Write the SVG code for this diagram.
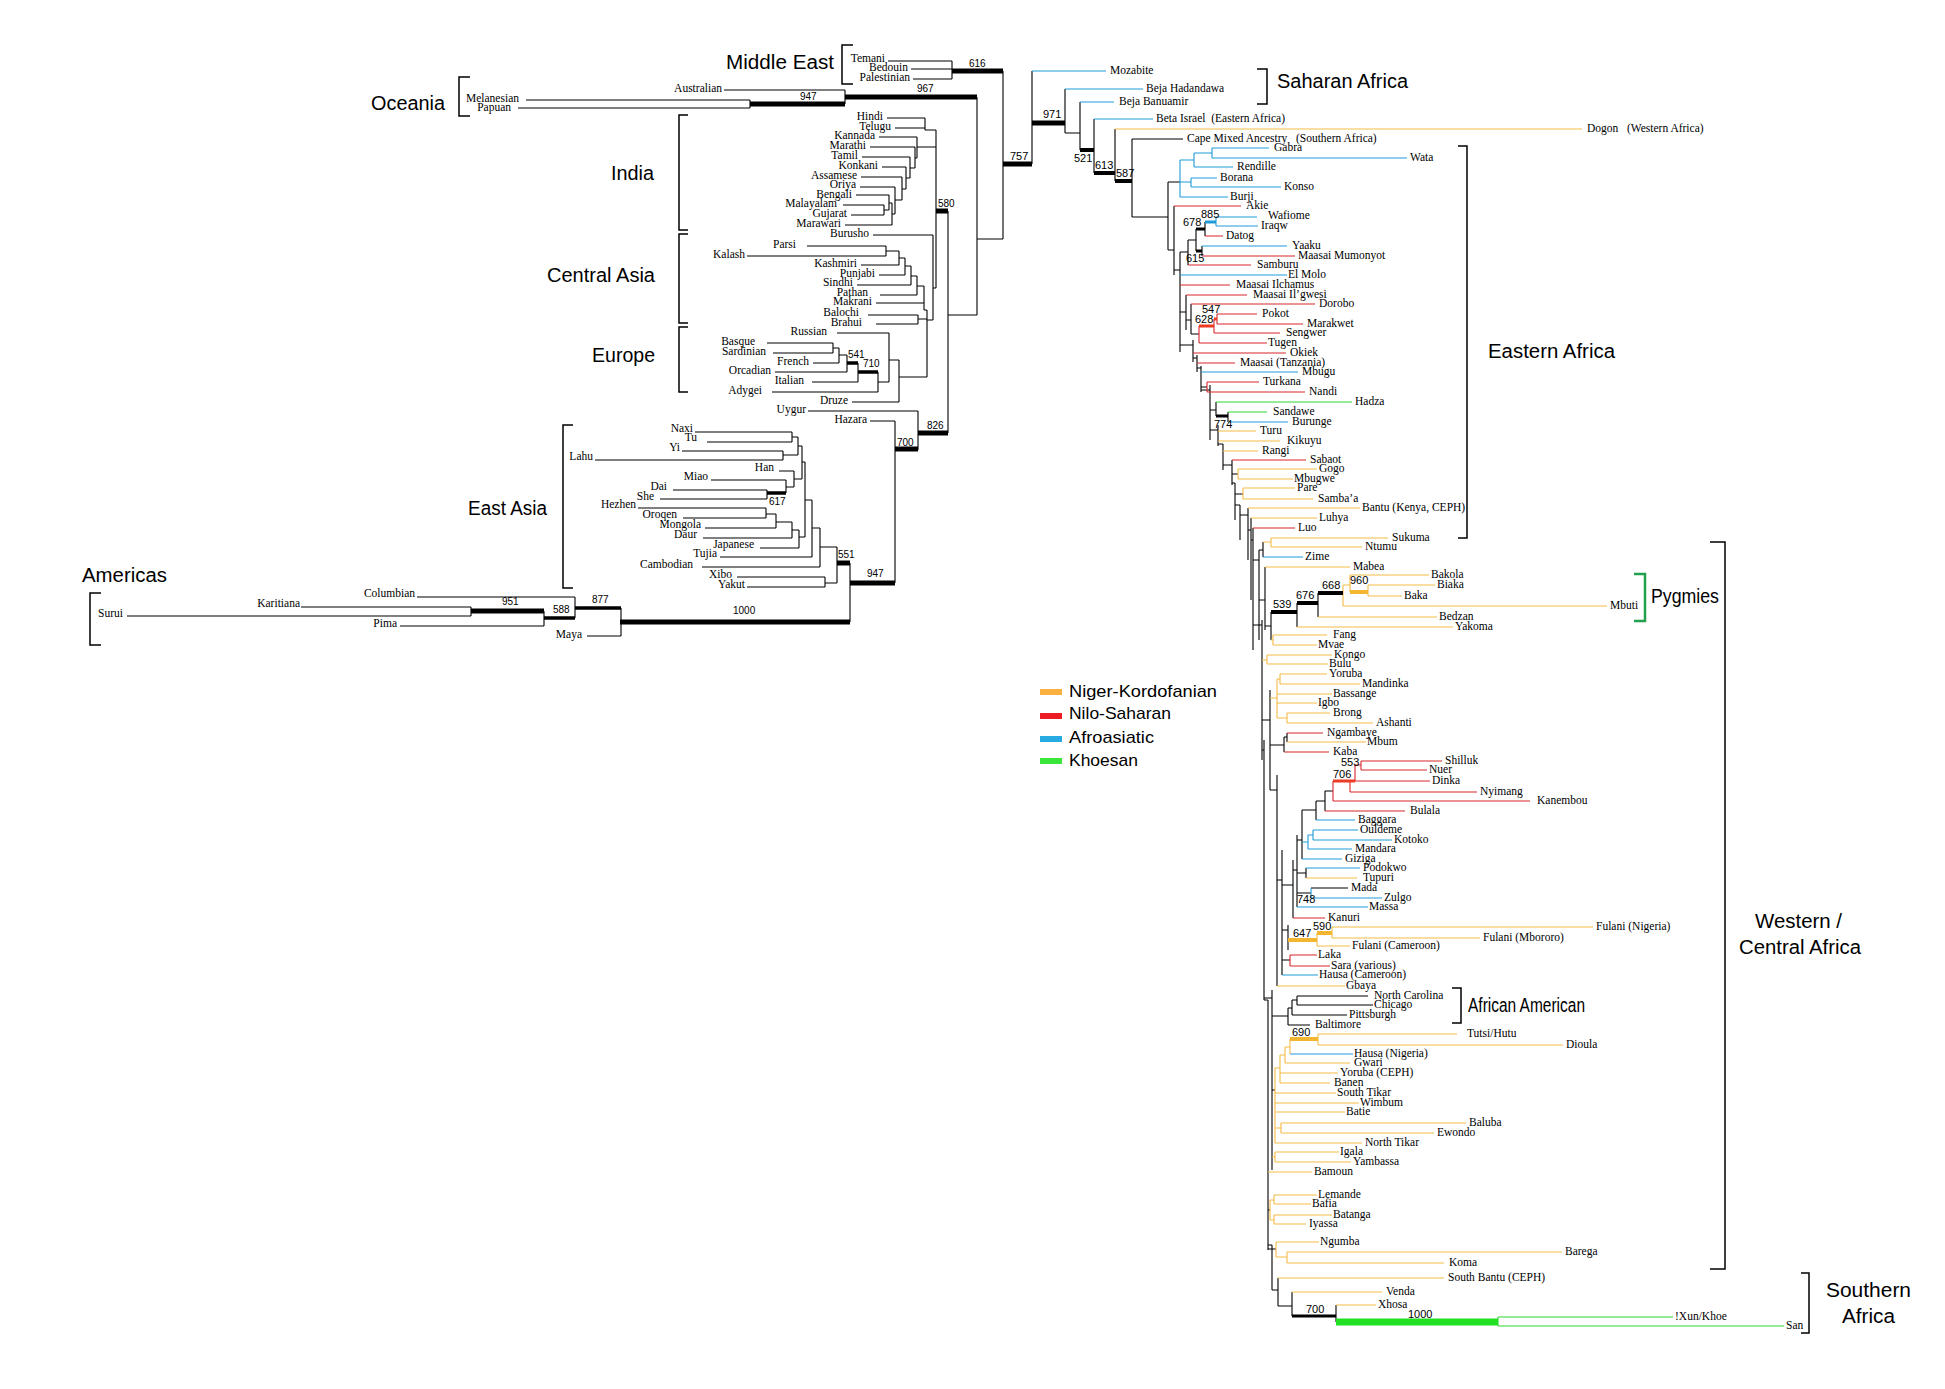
<svg xmlns="http://www.w3.org/2000/svg" width="1945" height="1389" viewBox="0 0 1945 1389">
<style>
.t{font-family:"Liberation Serif",serif;font-size:11.5px;fill:#000}
.e{text-anchor:end}
.n{font-family:"Liberation Sans",sans-serif;font-size:10px;fill:#000}
.na{font-family:"Liberation Sans",sans-serif;font-size:11px;fill:#000}
.big{font-family:"Liberation Sans",sans-serif;font-size:20px;fill:#000}
.lg{font-family:"Liberation Sans",sans-serif;font-size:17px;fill:#000}
.k{stroke:#000;stroke-width:1.1;fill:none}
.y{stroke:#f3bb45;stroke-width:1.1;fill:none}
.r{stroke:#d8262b;stroke-width:1.1;fill:none}
.b{stroke:#1f9bd7;stroke-width:1.1;fill:none}
.g{stroke:#2fd82f;stroke-width:1.1;fill:none}
.w3{stroke-width:3}
.w35{stroke-width:3.5}
.w4{stroke-width:4}
.w5{stroke-width:5}
.w7{stroke-width:7}
.ro{stroke:#ee3b24}
.yo{stroke:#f4b630}
.gt{stroke:#22e022}
.br{stroke:#000;stroke-width:1.5;fill:none}
</style>
<rect width="1945" height="1389" fill="#fff"/>
<g id="connectors">
<path class="k" d="M888,61H952 M911,69H952 M913,79H952 M952,61V79 M1003,71V239 M977,239H1003 M724,90H845 M526,100H750 M518,108H750 M750,100V108 M845,90V104 M977,97V315 M887,118H925 M895,128H925 M925,118V130 M925,130H936 M879,137H917 M870,147H915 M862,157H910 M882,167H906 M861,177H902 M860,187H895 M856,195H889 M843,205H884 M851,215H884 M845,225H892 M884,205V215 M884,210H889 M889,195V210 M889,203H892 M892,203V225 M892,214H895 M895,187V214 M895,200H902 M902,177V200 M902,189H906 M906,167V189 M906,178H910 M910,157V178 M910,168H915 M915,147V168 M915,158H917 M917,137V158 M917,147H936 M936,130V288 M873,235H933 M933,235V320 M933,288H936 M948,211V433 M948,315H977 M807,246H886 M747,256H886 M886,246V256 M886,251H899 M861,265H899 M899,251V265 M899,258H905 M879,275H905 M905,258V275 M905,266H911 M857,285H911 M911,266V285 M911,276H917 M880,295H917 M917,276V295 M917,286H924 M876,303H924 M924,286V310 M868,315H918 M876,324H918 M918,315V324 M918,319H927 M924,310H927 M927,310V377 M927,320H933 M837,333H889 M767,343H833 M773,353H833 M833,343V353 M833,348H839 M813,363H839 M839,348V363 M839,355H847 M775,372H847 M847,355V372 M812,382H858 M858,363V382 M772,392H878 M878,372V392 M878,382H889 M889,333V382 M889,360H899 M852,402H899 M899,360V402 M899,377H927 M808,411H918 M918,411V450 M870,421H895 M895,421V583 M695,432H792 M707,442H792 M792,432V442 M792,437H798 M682,451H783 M595,460H783 M783,451V460 M783,455H798 M798,437V455 M798,446H802 M779,471H794 M711,480H786 M673,490H767 M660,499H767 M767,490V499 M786,480V493 M786,487H794 M794,471V487 M794,479H802 M802,446V479 M802,462H805 M638,508H766 M683,518H766 M766,508V518 M766,514H776 M705,528H776 M776,514V528 M776,522H792 M703,538H792 M792,522V538 M792,530H799 M760,548H799 M799,530V548 M799,537H805 M805,462V537 M805,500H812 M720,557H812 M812,500V557 M812,528H820 M702,567H820 M820,528V567 M820,547H837 M737,577H825 M747,587H825 M825,577V587 M825,583H837 M837,547V583 M850,563V622 M417,597H575 M301,607H471 M127,616H471 M471,607V616 M400,626H544 M544,611V626 M575,597V618 M587,636H621 M621,608V636"/>
<path class="k w5" d="M952,71H1003 M1003,164H1032 M750,104H845 M845,97H977 M936,211H948 M918,433H948 M895,449H918 M850,583H895 M837,563H850 M620,622H850 M471,611H544 M1032,123H1065"/>
<path class="k w35" d="M847,363H858 M858,372H878 M544,618H575 M575,608H621 M767,493H786"/>
<path class="k" d="M1032,71V164 M1065,89V133 M1065,133H1080 M1080,102V150 M1094,119V173 M1115,129V181 M1132,139V217 M1132,217H1168 M1168,182V250 M1168,182H1180 M1168,250H1174 M1174,206V275 M1174,270H1180 M1180,252V352 M1180,252H1188 M1188,240V265 M1188,240H1196 M1196,229V251 M1205,222V236 M1202,246V256 M1186,295V330 M1180,312H1186 M1191,304V334 M1186,320H1191 M1191,334H1199 M1180,345H1193 M1193,340V362 M1193,358H1197 M1197,355V372 M1197,368H1201 M1201,366V392 M1201,387H1207 M1201,390H1210 M1210,385V440 M1210,410H1216 M1216,402V416 M1228,412V422 M1210,430H1218 M1218,425V446 M1218,444H1223 M1223,444V470 M1223,465H1232 M1232,460V485 M1232,474H1238 M1232,483H1235 M1235,483V520 M1235,494H1243 M1235,505H1240 M1240,505V540 M1240,515H1248 M1248,508V560 M1248,530H1251 M1251,518V600 M1251,540H1253 M1253,528V650 M1253,560H1259 M1259,550V640 M1259,550H1263 M1263,542V557 M1259,600H1265 M1265,567V630 M1265,626H1271 M1271,612V640 M1297,603V627 M1318,593V617 M1253,625H1262 M1262,620V760 M1262,720H1270 M1270,690V790 M1270,745H1284 M1284,737V752 M1284,737H1287 M1287,733V742 M1270,790H1277 M1277,775V986 M1277,880H1282 M1282,850V975 M1325,791H1333 M1325,791V811 M1316,801H1325 M1316,801V820 M1302,810H1316 M1302,810V859 M1297,840H1302 M1297,835V907 M1297,873H1306 M1306,868V878 M1297,893H1311 M1293,870H1297 M1293,860V918 M1282,885H1293 M1288,925V950 M1282,930H1288 M1282,960H1290 M1262,750H1264 M1264,740V1000 M1264,998H1272 M1272,990V1170 M1264,1000H1268 M1268,1000V1250 M1272,1016H1288 M1288,1008V1025 M1288,1008H1292 M1292,1000V1015 M1292,1000H1297 M1297,996V1005 M1272,1090H1275 M1268,1210H1270 M1268,1249H1276 M1268,1245H1272 M1272,1245V1290 M1272,1290H1278 M1278,1278V1306 M1278,1306H1292 M1292,1292V1316 M1336,1305V1322 M1132,139H1183 M1311,888H1348 M1297,996H1368 M1297,1005H1373 M1292,1015H1347 M1288,1025H1310"/>
<path class="b" d="M1032,71H1106 M1065,89H1143 M1080,102H1114 M1094,119H1153 M1212,148H1269 M1212,158H1407 M1194,167H1233 M1191,178H1217 M1191,187H1281 M1180,197H1228 M1180,160V197 M1180,160H1194 M1194,153V167 M1194,153H1212 M1212,148V158 M1180,182H1191 M1191,178V187 M1216,217H1257 M1216,226H1258 M1216,217V226 M1202,246H1287 M1180,275H1287 M1201,372H1298 M1228,422H1288 M1263,557H1303 M1316,820H1355 M1313,830H1358 M1313,840H1392 M1313,830V840 M1308,835H1313 M1308,849H1352 M1308,835V849 M1302,842H1308 M1302,859H1342 M1306,868H1360 M1311,898H1382 M1311,888V898 M1297,907H1368 M1282,975H1318 M1290,1054H1353"/>
<path class="r" d="M1174,206H1241 M1205,236H1223 M1202,256H1295 M1188,265H1251 M1180,285H1230 M1186,295H1247 M1191,304H1315 M1217,314H1257 M1217,324H1303 M1217,314V324 M1214,333H1280 M1214,319V333 M1199,343H1267 M1199,326V343 M1193,353H1286 M1197,363H1235 M1207,382H1259 M1207,392H1305 M1207,382V392 M1232,460H1306 M1253,528H1295 M1287,733H1323 M1284,752H1329 M1361,761H1442 M1361,770H1427 M1361,761V770 M1355,765H1361 M1355,765V781 M1355,781H1430 M1350,781V792 M1350,792H1477 M1333,781V801 M1333,801H1530 M1325,811H1405 M1293,918H1325 M1290,955H1317 M1290,966H1330 M1290,955V966"/>
<path class="g" d="M1216,402H1352 M1228,412H1267 M1498,1317H1673 M1498,1326H1784 M1498,1317V1326"/>
<path class="y" d="M1115,129H1582 M1218,431H1256 M1218,441H1280 M1223,451H1258 M1238,469H1317 M1238,479H1293 M1238,469V479 M1243,488H1295 M1243,499H1313 M1243,488V499 M1248,508H1360 M1251,518H1317 M1271,538H1388 M1271,547H1362 M1271,538V547 M1263,542H1271 M1265,567H1350 M1350,575H1429 M1368,585H1435 M1368,596H1402 M1368,585V596 M1350,575V592 M1343,585H1350 M1343,585V606 M1343,606H1607 M1318,617H1437 M1297,627H1453 M1273,635H1327 M1273,645H1317 M1273,635V645 M1271,640H1273 M1267,655H1332 M1267,664H1328 M1267,655V664 M1262,660H1267 M1280,674H1327 M1280,684H1360 M1280,674V684 M1277,679H1280 M1277,694H1332 M1277,703H1317 M1277,679V718 M1277,718H1287 M1287,713H1330 M1287,723H1373 M1287,713V723 M1270,698H1277 M1287,742H1366 M1306,878H1357 M1332,927H1593 M1332,938H1480 M1332,927V938 M1317,933V946 M1317,946H1350 M1277,986H1345 M1318,1034H1457 M1318,1045H1563 M1318,1034V1045 M1290,1039V1054 M1285,1047H1290 M1285,1047V1063 M1285,1063H1350 M1280,1055H1285 M1280,1055V1083 M1280,1073H1338 M1280,1083H1330 M1275,1068H1280 M1275,1068V1143 M1275,1093H1336 M1275,1103H1359 M1275,1112H1345 M1275,1128H1281 M1281,1123V1133 M1281,1123H1466 M1281,1133H1434 M1275,1143H1362 M1275,1152V1162 M1275,1152H1339 M1275,1162H1351 M1272,1157H1275 M1268,1172H1312 M1274,1195V1204 M1274,1195H1317 M1274,1204H1311 M1270,1200H1274 M1274,1215V1224 M1274,1215H1332 M1274,1224H1306 M1270,1220H1274 M1270,1200V1220 M1276,1242V1257 M1276,1242H1319 M1276,1257H1287 M1287,1252V1263 M1287,1252H1562 M1287,1263H1444 M1278,1278H1444 M1292,1292H1382 M1336,1305H1376"/>
<path class="k w4" d="M1080,150H1094 M1094,173H1115 M1115,181H1132 M1271,612H1297 M1297,603H1318 M1318,593H1343"/>
<path class="k w3" d="M1196,229H1205 M1196,251H1202 M1216,416H1228 M1292,1316H1336"/>
<path class="b w3" d="M1205,222H1216"/>
<path class="r ro w3" d="M1199,326H1214 M1214,319H1217 M1333,781H1355"/>
<path class="y yo w4" d="M1350,592H1368 M1317,933H1332 M1288,940H1317 M1290,1039H1318"/>
<path class="g gt w7" d="M1336,1322H1498"/>
</g>
<g id="brackets">
<path class="br" d="M853,45H842V84H853 M470,77H459V116H470 M688,115H679V230H688 M688,234H679V323H688 M688,327H679V392H688 M573,425H563V588H573 M101,593H90V645H101 M1257,69H1267V104H1257 M1458,146H1467V538H1458 M1452,988H1461V1023H1452 M1710,542H1725V1269H1710 M1801,1273H1809V1333H1801"/>
<path d="M1634,574H1645V621H1634" stroke="#22a04b" stroke-width="2.5" fill="none"/>
</g>
<g id="legend">
<rect x="1040" y="689" width="22" height="6" fill="#fbb040"/>
<rect x="1040" y="713" width="22" height="6" fill="#ed1c24"/>
<rect x="1040" y="736" width="22" height="6" fill="#27aae1"/>
<rect x="1040" y="758" width="22" height="6" fill="#39e639"/>
<text class="lg" x="1069" y="697" textLength="148" lengthAdjust="spacingAndGlyphs">Niger-Kordofanian</text>
<text class="lg" x="1069" y="719" textLength="102" lengthAdjust="spacingAndGlyphs">Nilo-Saharan</text>
<text class="lg" x="1069" y="743" textLength="85" lengthAdjust="spacingAndGlyphs">Afroasiatic</text>
<text class="lg" x="1069" y="766" textLength="69" lengthAdjust="spacingAndGlyphs">Khoesan</text>
</g>
<g id="region-labels">
<text class="big" x="726" y="69" textLength="108" lengthAdjust="spacingAndGlyphs">Middle East</text>
<text class="big" x="371" y="110" textLength="74" lengthAdjust="spacingAndGlyphs">Oceania</text>
<text class="big" x="611" y="180" textLength="43" lengthAdjust="spacingAndGlyphs">India</text>
<text class="big" x="547" y="282" textLength="108" lengthAdjust="spacingAndGlyphs">Central Asia</text>
<text class="big" x="592" y="362" textLength="63" lengthAdjust="spacingAndGlyphs">Europe</text>
<text class="big" x="468" y="515" textLength="79" lengthAdjust="spacingAndGlyphs">East Asia</text>
<text class="big" x="82" y="582" textLength="85" lengthAdjust="spacingAndGlyphs">Americas</text>
<text class="big" x="1277" y="88" textLength="131" lengthAdjust="spacingAndGlyphs">Saharan Africa</text>
<text class="big" x="1488" y="358" textLength="127" lengthAdjust="spacingAndGlyphs">Eastern Africa</text>
<text class="big" x="1651" y="603" font-size="18" fill="#22a04b" textLength="68" lengthAdjust="spacingAndGlyphs">Pygmies</text>
<text class="big" x="1755" y="928" textLength="87" lengthAdjust="spacingAndGlyphs">Western /</text>
<text class="big" x="1739" y="954" textLength="122" lengthAdjust="spacingAndGlyphs">Central Africa</text>
<text class="big" x="1468" y="1012" font-size="17" textLength="117" lengthAdjust="spacingAndGlyphs">African American</text>
<text class="big" x="1826" y="1297" textLength="85" lengthAdjust="spacingAndGlyphs">Southern</text>
<text class="big" x="1842" y="1323" textLength="53" lengthAdjust="spacingAndGlyphs">Africa</text>
</g>
<g id="support-values">
<text class="n" x="969" y="67">616</text><text class="n" x="917" y="92">967</text><text class="n" x="800" y="100">947</text>
<text class="n" x="938" y="207">580</text><text class="n" x="848" y="358">541</text><text class="n" x="863" y="367">710</text>
<text class="n" x="927" y="429">826</text><text class="n" x="897" y="446">700</text><text class="n" x="769" y="505">617</text>
<text class="n" x="838" y="558">551</text><text class="n" x="867" y="577">947</text><text class="n" x="733" y="614">1000</text>
<text class="n" x="502" y="605">951</text><text class="n" x="553" y="613">588</text><text class="n" x="592" y="603">877</text>
<text class="na" x="1010" y="160">757</text><text class="na" x="1043" y="118">971</text><text class="na" x="1074" y="162">521</text>
<text class="na" x="1095" y="169">613</text><text class="na" x="1116" y="177">587</text><text class="na" x="1201" y="218">885</text>
<text class="na" x="1183" y="226">678</text><text class="na" x="1186" y="262">615</text><text class="na" x="1202" y="313">547</text>
<text class="na" x="1195" y="323">628</text><text class="na" x="1214" y="428">774</text><text class="na" x="1350" y="584">960</text>
<text class="na" x="1322" y="589">668</text><text class="na" x="1296" y="599">676</text><text class="na" x="1273" y="608">539</text>
<text class="na" x="1341" y="766">553</text><text class="na" x="1333" y="778">706</text><text class="na" x="1297" y="903">748</text>
<text class="na" x="1313" y="930">590</text><text class="na" x="1293" y="937">647</text><text class="na" x="1292" y="1036">690</text>
<text class="na" x="1306" y="1313">700</text><text class="na" x="1408" y="1318">1000</text>
</g>
<g id="eurasia-leaves">
<g id="n-temani"><text class="t e" x="885" y="61.5">Temani</text></g>
<g id="n-bedouin"><text class="t e" x="908" y="71">Bedouin</text></g>
<g id="n-palestinian"><text class="t e" x="910" y="81">Palestinian</text></g>
<g id="n-australian"><text class="t e" x="722" y="92">Australian</text></g>
<g id="n-melanesian"><text class="t e" x="519" y="102">Melanesian</text></g>
<g id="n-papuan"><text class="t e" x="511" y="111">Papuan</text></g>
<g id="n-hindi"><text class="t e" x="883" y="120">Hindi</text></g>
<g id="n-telugu"><text class="t e" x="891" y="130">Telugu</text></g>
<g id="n-kannada"><text class="t e" x="875" y="139">Kannada</text></g>
<g id="n-marathi"><text class="t e" x="866" y="149">Marathi</text></g>
<g id="n-tamil"><text class="t e" x="858" y="159">Tamil</text></g>
<g id="n-konkani"><text class="t e" x="878" y="169">Konkani</text></g>
<g id="n-assamese"><text class="t e" x="857" y="179">Assamese</text></g>
<g id="n-oriya"><text class="t e" x="856" y="188">Oriya</text></g>
<g id="n-bengali"><text class="t e" x="852" y="198">Bengali</text></g>
<g id="n-malayalam"><text class="t e" x="837" y="207">Malayalam</text></g>
<g id="n-gujarat"><text class="t e" x="847" y="217">Gujarat</text></g>
<g id="n-marawari"><text class="t e" x="841" y="227">Marawari</text></g>
<g id="n-burusho"><text class="t e" x="869" y="237">Burusho</text></g>
<g id="n-parsi"><text class="t e" x="796" y="248">Parsi</text></g>
<g id="n-kalash"><text class="t e" x="745" y="258">Kalash</text></g>
<g id="n-kashmiri"><text class="t e" x="857" y="267">Kashmiri</text></g>
<g id="n-punjabi"><text class="t e" x="875" y="277">Punjabi</text></g>
<g id="n-sindhi"><text class="t e" x="853" y="286">Sindhi</text></g>
<g id="n-pathan"><text class="t e" x="868" y="295.5">Pathan</text></g>
<g id="n-makrani"><text class="t e" x="872" y="305">Makrani</text></g>
<g id="n-balochi"><text class="t e" x="859" y="316">Balochi</text></g>
<g id="n-brahui"><text class="t e" x="862" y="326">Brahui</text></g>
<g id="n-russian"><text class="t e" x="827" y="335">Russian</text></g>
<g id="n-basque"><text class="t e" x="755" y="345">Basque</text></g>
<g id="n-sardinian"><text class="t e" x="766" y="355">Sardinian</text></g>
<g id="n-french"><text class="t e" x="809" y="365">French</text></g>
<g id="n-orcadian"><text class="t e" x="771" y="374">Orcadian</text></g>
<g id="n-italian"><text class="t e" x="804" y="384">Italian</text></g>
<g id="n-adygei"><text class="t e" x="762" y="394">Adygei</text></g>
<g id="n-druze"><text class="t e" x="848" y="404">Druze</text></g>
<g id="n-uygur"><text class="t e" x="806" y="413">Uygur</text></g>
<g id="n-hazara"><text class="t e" x="867" y="423">Hazara</text></g>
<g id="n-naxi"><text class="t e" x="693" y="431.5">Naxi</text></g>
<g id="n-tu"><text class="t e" x="697" y="441">Tu</text></g>
<g id="n-yi"><text class="t e" x="680" y="451">Yi</text></g>
<g id="n-lahu"><text class="t e" x="593" y="460">Lahu</text></g>
<g id="n-han"><text class="t e" x="774" y="471">Han</text></g>
<g id="n-miao"><text class="t e" x="708" y="480">Miao</text></g>
<g id="n-dai"><text class="t e" x="667" y="490">Dai</text></g>
<g id="n-she"><text class="t e" x="654" y="500">She</text></g>
<g id="n-hezhen"><text class="t e" x="636" y="508">Hezhen</text></g>
<g id="n-oroqen"><text class="t e" x="677" y="518">Oroqen</text></g>
<g id="n-mongola"><text class="t e" x="701" y="528">Mongola</text></g>
<g id="n-daur"><text class="t e" x="697" y="538">Daur</text></g>
<g id="n-japanese"><text class="t e" x="754" y="548">Japanese</text></g>
<g id="n-tujia"><text class="t e" x="717" y="557">Tujia</text></g>
<g id="n-cambodian"><text class="t e" x="693" y="568">Cambodian</text></g>
<g id="n-xibo"><text class="t e" x="732" y="578">Xibo</text></g>
<g id="n-yakut"><text class="t e" x="745" y="588">Yakut</text></g>
<g id="n-columbian"><text class="t e" x="415" y="597">Columbian</text></g>
<g id="n-karitiana"><text class="t e" x="300" y="607">Karitiana</text></g>
<g id="n-surui"><text class="t e" x="123" y="617">Surui</text></g>
<g id="n-pima"><text class="t e" x="397" y="627">Pima</text></g>
<g id="n-maya"><text class="t e" x="582" y="638">Maya</text></g>
</g>
<g id="africa-leaves">
<g id="n-mozabite"><text class="t" x="1110" y="74">Mozabite</text></g>
<g id="n-beja-hadandawa"><text class="t" x="1146" y="92">Beja Hadandawa</text></g>
<g id="n-beja-banuamir"><text class="t" x="1119" y="105">Beja Banuamir</text></g>
<g id="n-beta-israel"><text class="t" x="1156" y="122">Beta Israel&#160; (Eastern Africa)</text></g>
<g id="n-dogon"><text class="t" x="1587" y="132">Dogon&#160;&#160; (Western Africa)</text></g>
<g id="n-cape"><text class="t" x="1187" y="142">Cape Mixed Ancestry&#160;&#160; (Southern Africa)</text></g>
<g id="n-gabra"><text class="t" x="1274" y="151">Gabra</text></g>
<g id="n-wata"><text class="t" x="1410" y="161">Wata</text></g>
<g id="n-rendille"><text class="t" x="1237" y="170">Rendille</text></g>
<g id="n-borana"><text class="t" x="1220" y="181">Borana</text></g>
<g id="n-konso"><text class="t" x="1284" y="190">Konso</text></g>
<g id="n-burji"><text class="t" x="1230" y="200">Burji</text></g>
<g id="n-akie"><text class="t" x="1246" y="209">Akie</text></g>
<g id="n-wafiome"><text class="t" x="1268" y="219">Wafiome</text></g>
<g id="n-iraqw"><text class="t" x="1261" y="229">Iraqw</text></g>
<g id="n-datog"><text class="t" x="1226" y="239">Datog</text></g>
<g id="n-yaaku"><text class="t" x="1292" y="249">Yaaku</text></g>
<g id="n-maasai-mumonyot"><text class="t" x="1298" y="259">Maasai Mumonyot</text></g>
<g id="n-samburu"><text class="t" x="1257" y="268">Samburu</text></g>
<g id="n-el-molo"><text class="t" x="1288" y="278">El Molo</text></g>
<g id="n-maasai-ilchamus"><text class="t" x="1236" y="288">Maasai Ilchamus</text></g>
<g id="n-maasai-ilgwesi"><text class="t" x="1253" y="298">Maasai Il’gwesi</text></g>
<g id="n-dorobo"><text class="t" x="1319" y="307">Dorobo</text></g>
<g id="n-pokot"><text class="t" x="1262" y="317">Pokot</text></g>
<g id="n-marakwet"><text class="t" x="1307" y="327">Marakwet</text></g>
<g id="n-sengwer"><text class="t" x="1286" y="336">Sengwer</text></g>
<g id="n-tugen"><text class="t" x="1268" y="346">Tugen</text></g>
<g id="n-okiek"><text class="t" x="1290" y="356">Okiek</text></g>
<g id="n-maasai-tanzania"><text class="t" x="1240" y="366">Maasai (Tanzania)</text></g>
<g id="n-mbugu"><text class="t" x="1302" y="375">Mbugu</text></g>
<g id="n-turkana"><text class="t" x="1263" y="385">Turkana</text></g>
<g id="n-nandi"><text class="t" x="1309" y="395">Nandi</text></g>
<g id="n-hadza"><text class="t" x="1355" y="405">Hadza</text></g>
<g id="n-sandawe"><text class="t" x="1273" y="415">Sandawe</text></g>
<g id="n-burunge"><text class="t" x="1292" y="425">Burunge</text></g>
<g id="n-turu"><text class="t" x="1260" y="434">Turu</text></g>
<g id="n-kikuyu"><text class="t" x="1287" y="444">Kikuyu</text></g>
<g id="n-rangi"><text class="t" x="1262" y="454">Rangi</text></g>
<g id="n-sabaot"><text class="t" x="1310" y="463">Sabaot</text></g>
<g id="n-gogo"><text class="t" x="1319" y="472">Gogo</text></g>
<g id="n-mbugwe"><text class="t" x="1294" y="482">Mbugwe</text></g>
<g id="n-pare"><text class="t" x="1297" y="491">Pare</text></g>
<g id="n-sambaa"><text class="t" x="1318" y="502">Samba’a</text></g>
<g id="n-bantu-kenya"><text class="t" x="1362" y="511">Bantu (Kenya, CEPH)</text></g>
<g id="n-luhya"><text class="t" x="1319" y="521">Luhya</text></g>
<g id="n-luo"><text class="t" x="1298" y="531">Luo</text></g>
<g id="n-sukuma"><text class="t" x="1392" y="541">Sukuma</text></g>
<g id="n-ntumu"><text class="t" x="1365" y="550">Ntumu</text></g>
<g id="n-zime"><text class="t" x="1305" y="560">Zime</text></g>
<g id="n-mabea"><text class="t" x="1353" y="570">Mabea</text></g>
<g id="n-bakola"><text class="t" x="1431" y="578">Bakola</text></g>
<g id="n-biaka"><text class="t" x="1437" y="588">Biaka</text></g>
<g id="n-baka"><text class="t" x="1404" y="599">Baka</text></g>
<g id="n-mbuti"><text class="t" x="1610" y="609">Mbuti</text></g>
<g id="n-bedzan"><text class="t" x="1439" y="620">Bedzan</text></g>
<g id="n-yakoma"><text class="t" x="1455" y="630">Yakoma</text></g>
<g id="n-fang"><text class="t" x="1333" y="638">Fang</text></g>
<g id="n-mvae"><text class="t" x="1318" y="648">Mvae</text></g>
<g id="n-kongo"><text class="t" x="1334" y="658">Kongo</text></g>
<g id="n-bulu"><text class="t" x="1329" y="667">Bulu</text></g>
<g id="n-yoruba"><text class="t" x="1329" y="677">Yoruba</text></g>
<g id="n-mandinka"><text class="t" x="1362" y="687">Mandinka</text></g>
<g id="n-bassange"><text class="t" x="1333" y="697">Bassange</text></g>
<g id="n-igbo"><text class="t" x="1318" y="706">Igbo</text></g>
<g id="n-brong"><text class="t" x="1333" y="716">Brong</text></g>
<g id="n-ashanti"><text class="t" x="1376" y="726">Ashanti</text></g>
<g id="n-ngambaye"><text class="t" x="1327" y="736">Ngambaye</text></g>
<g id="n-mbum"><text class="t" x="1367" y="745">Mbum</text></g>
<g id="n-kaba"><text class="t" x="1333" y="755">Kaba</text></g>
<g id="n-shilluk"><text class="t" x="1445" y="764">Shilluk</text></g>
<g id="n-nuer"><text class="t" x="1429" y="773">Nuer</text></g>
<g id="n-dinka"><text class="t" x="1432" y="784">Dinka</text></g>
<g id="n-nyimang"><text class="t" x="1480" y="795">Nyimang</text></g>
<g id="n-kanembou"><text class="t" x="1537" y="804">Kanembou</text></g>
<g id="n-bulala"><text class="t" x="1410" y="814">Bulala</text></g>
<g id="n-baggara"><text class="t" x="1358" y="823">Baggara</text></g>
<g id="n-ouldeme"><text class="t" x="1360" y="833">Ouldeme</text></g>
<g id="n-kotoko"><text class="t" x="1394" y="843">Kotoko</text></g>
<g id="n-mandara"><text class="t" x="1355" y="852">Mandara</text></g>
<g id="n-giziga"><text class="t" x="1345" y="862">Giziga</text></g>
<g id="n-podokwo"><text class="t" x="1363" y="871">Podokwo</text></g>
<g id="n-tupuri"><text class="t" x="1363" y="881">Tupuri</text></g>
<g id="n-mada"><text class="t" x="1351" y="891">Mada</text></g>
<g id="n-zulgo"><text class="t" x="1384" y="901">Zulgo</text></g>
<g id="n-massa"><text class="t" x="1369" y="910">Massa</text></g>
<g id="n-kanuri"><text class="t" x="1328" y="921">Kanuri</text></g>
<g id="n-fulani-nigeria"><text class="t" x="1596" y="930">Fulani (Nigeria)</text></g>
<g id="n-fulani-mbororo"><text class="t" x="1483" y="941">Fulani (Mbororo)</text></g>
<g id="n-fulani-cameroon"><text class="t" x="1352" y="949">Fulani (Cameroon)</text></g>
<g id="n-laka"><text class="t" x="1318" y="958">Laka</text></g>
<g id="n-sara"><text class="t" x="1331" y="969">Sara (various)</text></g>
<g id="n-hausa-cameroon"><text class="t" x="1319" y="978">Hausa (Cameroon)</text></g>
<g id="n-gbaya"><text class="t" x="1346" y="989">Gbaya</text></g>
<g id="n-north-carolina"><text class="t" x="1374" y="999">North Carolina</text></g>
<g id="n-chicago"><text class="t" x="1374" y="1008">Chicago</text></g>
<g id="n-pittsburgh"><text class="t" x="1349" y="1018">Pittsburgh</text></g>
<g id="n-baltimore"><text class="t" x="1315" y="1028">Baltimore</text></g>
<g id="n-tutsi-hutu"><text class="t" x="1467" y="1037">Tutsi/Hutu</text></g>
<g id="n-dioula"><text class="t" x="1566" y="1048">Dioula</text></g>
<g id="n-hausa-nigeria"><text class="t" x="1354" y="1057">Hausa (Nigeria)</text></g>
<g id="n-gwari"><text class="t" x="1354" y="1066">Gwari</text></g>
<g id="n-yoruba-ceph"><text class="t" x="1340" y="1076">Yoruba (CEPH)</text></g>
<g id="n-banen"><text class="t" x="1334" y="1086">Banen</text></g>
<g id="n-south-tikar"><text class="t" x="1337" y="1096">South Tikar</text></g>
<g id="n-wimbum"><text class="t" x="1360" y="1106">Wimbum</text></g>
<g id="n-batie"><text class="t" x="1346" y="1115">Batie</text></g>
<g id="n-baluba"><text class="t" x="1469" y="1126">Baluba</text></g>
<g id="n-ewondo"><text class="t" x="1437" y="1136">Ewondo</text></g>
<g id="n-north-tikar"><text class="t" x="1365" y="1146">North Tikar</text></g>
<g id="n-igala"><text class="t" x="1340" y="1155">Igala</text></g>
<g id="n-yambassa"><text class="t" x="1353" y="1165">Yambassa</text></g>
<g id="n-bamoun"><text class="t" x="1314" y="1175">Bamoun</text></g>
<g id="n-lemande"><text class="t" x="1318" y="1198">Lemande</text></g>
<g id="n-bafia"><text class="t" x="1312" y="1207">Bafia</text></g>
<g id="n-batanga"><text class="t" x="1333" y="1218">Batanga</text></g>
<g id="n-iyassa"><text class="t" x="1309" y="1227">Iyassa</text></g>
<g id="n-ngumba"><text class="t" x="1320" y="1245">Ngumba</text></g>
<g id="n-barega"><text class="t" x="1565" y="1255">Barega</text></g>
<g id="n-koma"><text class="t" x="1449" y="1266">Koma</text></g>
<g id="n-south-bantu"><text class="t" x="1448" y="1281">South Bantu (CEPH)</text></g>
<g id="n-venda"><text class="t" x="1386" y="1295">Venda</text></g>
<g id="n-xhosa"><text class="t" x="1378" y="1308">Xhosa</text></g>
<g id="n-xun-khoe"><text class="t" x="1675" y="1320">!Xun/Khoe</text></g>
<g id="n-san"><text class="t" x="1786" y="1329">San</text></g>
</g>
</svg>
